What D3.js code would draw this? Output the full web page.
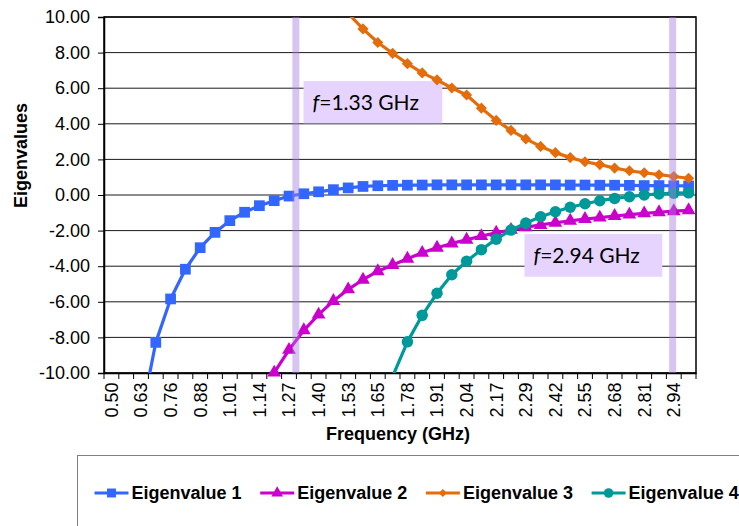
<!DOCTYPE html>
<html>
<head>
<meta charset="utf-8">
<script src="https://cdn.jsdelivr.net/npm/d3@7"></script>
<style>
	body { margin: 0; background: #fff; }
	text { font-family: "Liberation Sans", Arial, sans-serif; }
</style>
</head>
<body>
<div id="chart"></div>
<script>
// frequency categories (GHz), 40 points
const frequencies = ["0.50","0.56","0.63","0.69","0.76","0.82","0.88","0.95","1.01","1.08",
	"1.14","1.21","1.27","1.33","1.40","1.46","1.53","1.59","1.65","1.72",
	"1.78","1.85","1.91","1.97","2.04","2.10","2.17","2.23","2.29","2.36",
	"2.42","2.49","2.55","2.62","2.68","2.74","2.81","2.87","2.94","3.00"];

const xTickLabels = ["0.50","0.63","0.76","0.88","1.01","1.14","1.27","1.40","1.53","1.65",
	"1.78","1.91","2.04","2.17","2.29","2.42","2.55","2.68","2.81","2.94"];

const yTicks = [-10, -8, -6, -4, -2, 0, 2, 4, 6, 8, 10];

// null = off the chart, value unknown
const eigen1 = [null, null, -12.5, -8.28, -5.84, -4.17, -2.96, -2.10, -1.44, -0.97,
	-0.60, -0.32, -0.06, 0.07, 0.18, 0.30, 0.40, 0.48, 0.52, 0.54,
	0.55, 0.56, 0.57, 0.57, 0.57, 0.57, 0.57, 0.57, 0.57, 0.57,
	0.57, 0.56, 0.56, 0.55, 0.55, 0.54, 0.53, 0.53, 0.52, 0.51];

const eigen2 = [null, null, null, null, null, null, null, null, null, null,
	-11.7, -9.98, -8.70, -7.60, -6.72, -5.95, -5.30, -4.76, -4.28, -3.93,
	-3.58, -3.25, -2.96, -2.72, -2.51, -2.31, -2.12, -1.96, -1.81, -1.68,
	-1.56, -1.45, -1.35, -1.27, -1.18, -1.10, -1.03, -0.97, -0.91, -0.86];

const eigen3 = [null, null, null, null, null, null, null, null, null, null,
	null, null, null, null, null, null, 10.2, 9.33, 8.57, 7.96,
	7.38, 6.86, 6.47, 6.01, 5.62, 4.88, 4.19, 3.63, 3.15, 2.73,
	2.38, 2.10, 1.87, 1.71, 1.51, 1.36, 1.25, 1.14, 1.04, 0.94];

const eigen4 = [null, null, null, null, null, null, null, null, null, null,
	null, null, null, null, null, null, null, null, null, -10.2,
	-8.25, -6.76, -5.52, -4.48, -3.72, -3.07, -2.48, -1.97, -1.58, -1.22,
	-0.94, -0.69, -0.49, -0.32, -0.19, -0.10, 0.00, 0.06, 0.10, 0.12];

const seriesNames = ["Eigenvalue 1", "Eigenvalue 2", "Eigenvalue 3", "Eigenvalue 4"];
const seriesValues = [eigen1, eigen2, eigen3, eigen4];
const seriesColors = ["#3366ff", "#cc00cc", "#e46c0a", "#00999a"];

// marked frequencies: where the bar sits on the picture, and its caption
const markerFreqs = [1.299, 2.931];
const markerLabels = ["1.33 GHz", "2.94 GHz"];
// caption boxes in data units [f0, f1, vTop, vBottom]
const markerBoxes = [[1.332, 1.933, 6.40, 4.03], [2.289, 2.886, -2.19, -4.59]];

const width = 739, height = 526;
const plot = {left: 104, right: 696, top: 17, bottom: 373};

const svg = d3.select("div#chart")
	.append("svg")
		.attr("width", width)
		.attr("height", height);

const scaleX = d3.scaleBand().domain(frequencies).range([plot.left, plot.right]).padding(0);
const bw = scaleX.bandwidth();
const cx = (i) => scaleX(frequencies[i]) + bw / 2;

// continuous frequency scale lined up with category centres (for annotations)
const scaleF = d3.scaleLinear()
	.domain([+frequencies[0], +frequencies[frequencies.length - 1]])
	.range([cx(0), cx(frequencies.length - 1)]);

const scaleY = d3.scaleLinear().domain([-10, 10]).range([plot.bottom, plot.top]);

svg.append("defs").append("clipPath")
	.attr("id", "clip")
	.append("rect")
		.attr("x", plot.left)
		.attr("y", plot.top)
		.attr("width", plot.right - plot.left)
		.attr("height", plot.bottom - plot.top);

// gridlines
svg.append("g")
	.selectAll("line")
	.data(yTicks)
	.enter()
	.append("line")
		.attr("x1", plot.left)
		.attr("x2", plot.right)
		.attr("y1", (d) => scaleY(d))
		.attr("y2", (d) => scaleY(d))
		.attr("stroke", "#1a1a1a")
		.attr("stroke-width", 1);

// plot border
svg.append("rect")
	.attr("x", plot.left)
	.attr("y", plot.top)
	.attr("width", plot.right - plot.left)
	.attr("height", plot.bottom - plot.top)
	.attr("fill", "none")
	.attr("stroke", "#000")
	.attr("stroke-width", 1.5);

// caption boxes (under the series)
svg.append("g")
	.selectAll("rect")
	.data(markerBoxes)
	.enter()
	.append("rect")
		.attr("x", (d) => scaleF(d[0]))
		.attr("y", (d) => scaleY(d[2]))
		.attr("width", (d) => scaleF(d[1]) - scaleF(d[0]))
		.attr("height", (d) => scaleY(d[3]) - scaleY(d[2]))
		.attr("fill", "#e6d4fe");

const captions = svg.append("g")
	.selectAll("text")
	.data(markerBoxes)
	.enter()
	.append("text")
		.attr("x", (d) => scaleF(d[0]) + 9)
		.attr("y", (d) => scaleY(d[2]) + (scaleY(d[3]) - scaleY(d[2])) * 0.69)
		.style("font-family", "Lato, 'Open Sans', sans-serif")
		.style("font-size", "21px")
		.attr("fill", "#000");
captions.append("tspan").style("font-style", "italic").text("f");
captions.append("tspan").text((d, i) => "=" + markerLabels[i]);

// y axis (plain hyphen for negatives, like the original)
const fmt = d3.format(".2f");
const axisY = d3.axisLeft(scaleY)
	.tickValues(yTicks)
	.tickFormat((d) => fmt(d).replace("\u2212", "-"))
	.tickSize(6)
	.tickPadding(8);

svg.append("g")
	.attr("class", "scale-y")
	.attr("transform", `translate(${plot.left},0)`)
	.call(axisY)
	.call((g) => g.select(".domain").attr("stroke", "#000").attr("stroke-width", 1.5))
	.call((g) => g.selectAll("text").style("font-size", "18px").attr("fill", "#000")
		.style("font-family", "'Liberation Sans', Arial, sans-serif"));

// x axis: labels on every other category, ticks on category borders
const axisX = d3.axisBottom(scaleX)
	.tickValues(xTickLabels)
	.tickSize(0)
	.tickPadding(0);

svg.append("g")
	.attr("class", "scale-x")
	.attr("transform", `translate(0,${plot.bottom})`)
	.call(axisX)
	.call((g) => g.select(".domain").attr("stroke", "#000").attr("stroke-width", 1.5))
	.call((g) => g.selectAll("text")
		.attr("transform", "rotate(-90)")
		.attr("text-anchor", "end")
		.attr("x", -9.5)
		.attr("y", 0)
		.attr("dy", "0.35em")
		.style("font-size", "18px")
		.style("font-family", "'Liberation Sans', Arial, sans-serif")
		.attr("fill", "#000"));

const borders = frequencies.map((f) => scaleX(f)).concat([plot.right]);
svg.append("g")
	.selectAll("line")
	.data(borders)
	.enter()
	.append("line")
		.attr("x1", (d) => d)
		.attr("x2", (d) => d)
		.attr("y1", plot.bottom)
		.attr("y2", plot.bottom + 6)
		.attr("stroke", "#000")
		.attr("stroke-width", 1);

// axis titles
svg.append("text")
	.attr("transform", "translate(27,155.5) rotate(-90)")
	.attr("text-anchor", "middle")
	.style("font-size", "18px")
	.style("font-weight", "bold")
	.text("Eigenvalues");

svg.append("text")
	.attr("x", 398)
	.attr("y", 440)
	.attr("text-anchor", "middle")
	.style("font-size", "18px")
	.style("font-weight", "bold")
	.text("Frequency (GHz)");

// series
const symbols = [
	d3.symbol().type(d3.symbolSquare).size(115),
	d3.symbol().type(d3.symbolTriangle).size(82),
	d3.symbol().type(d3.symbolSquare).size(62),
	d3.symbol().type(d3.symbolCircle).size(104)
];
const symbolRotate = [0, 0, 45, 0];

const line = d3.line()
	.defined((d) => d != null)
	.x((d, i) => cx(i))
	.y((d) => scaleY(d));

const seriesG = svg.append("g");

seriesValues.forEach((values, s) => {
	seriesG.append("path")
		.attr("class", "line")
		.attr("clip-path", "url(#clip)")
		.attr("fill", "none")
		.attr("stroke", seriesColors[s])
		.attr("stroke-width", 3.2)
		.attr("stroke-linejoin", "round")
		.attr("d", line(values));

	const pts = values.map((v, i) => ({v: v, i: i}))
		.filter((d) => d.v != null && d.v >= -10 && d.v <= 10);

	seriesG.append("g")
		.selectAll("path")
		.data(pts)
		.enter()
		.append("path")
			.attr("transform", (d) => `translate(${cx(d.i)},${scaleY(d.v)}) rotate(${symbolRotate[s]})`)
			.attr("d", symbols[s])
			.attr("fill", seriesColors[s]);
});

// marked frequencies, drawn over the series
svg.append("g")
	.selectAll("rect")
	.data(markerFreqs)
	.enter()
	.append("rect")
		.attr("x", (d) => scaleF(d) - 3.5)
		.attr("y", plot.top)
		.attr("width", 7)
		.attr("height", plot.bottom - plot.top)
		.attr("fill", "#a57ee0")
		.attr("opacity", 0.45);

// legend
const legend = svg.append("g");
legend.append("rect")
	.attr("x", 77.5)
	.attr("y", 455.5)
	.attr("width", 700)
	.attr("height", 100)
	.attr("fill", "#fff")
	.attr("stroke", "#808080")
	.attr("stroke-width", 1);

const legendSymbols = [
	d3.symbol().type(d3.symbolSquare).size(80),
	d3.symbol().type(d3.symbolTriangle).size(60),
	d3.symbol().type(d3.symbolSquare).size(32),
	d3.symbol().type(d3.symbolCircle).size(72)
];

const items = legend.selectAll(".item")
	.data(seriesNames)
	.enter()
	.append("g")
		.attr("class", "item")
		.attr("transform", (d, i) => `translate(${94.5 + i * 165.7},493)`);

items.append("line")
	.attr("x1", 0)
	.attr("x2", 34)
	.attr("stroke", (d, i) => seriesColors[i])
	.attr("stroke-width", 3);

items.append("path")
	.attr("transform", (d, i) => `translate(17,0) rotate(${symbolRotate[i]})`)
	.attr("d", (d, i) => legendSymbols[i]())
	.attr("fill", (d, i) => seriesColors[i]);

items.append("text")
	.attr("x", 37)
	.attr("dy", "0.35em")
	.style("font-size", "18px")
	.style("font-weight", "bold")
	.text((d) => d);
</script>
</body>
</html>
